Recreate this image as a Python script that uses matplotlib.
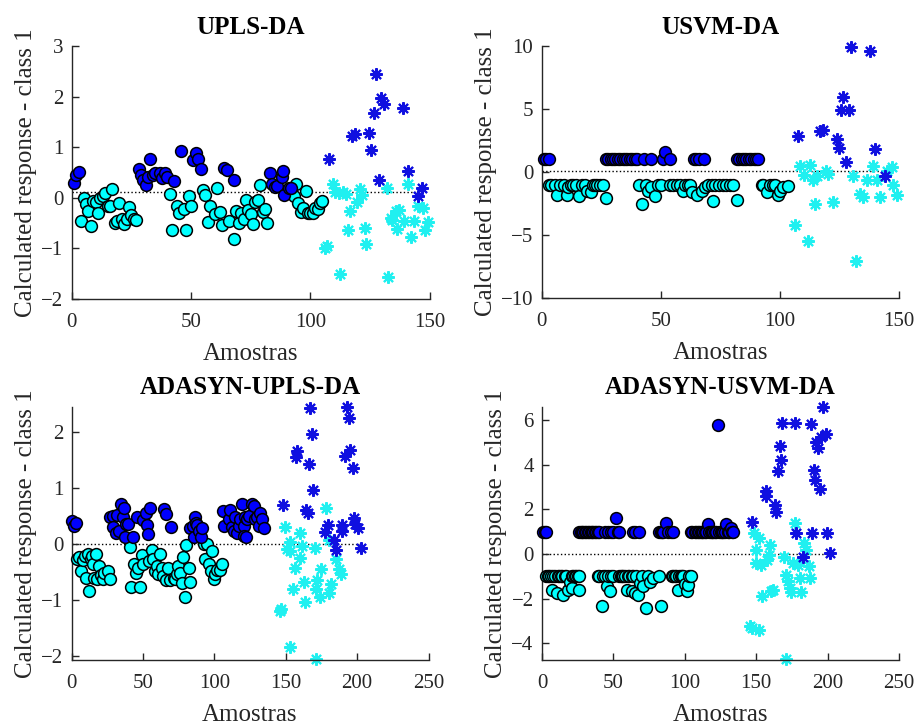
import numpy as np
import matplotlib
matplotlib.use("Agg")
import matplotlib.pyplot as plt

plt.rcParams['font.family'] = ['Liberation Serif', 'DejaVu Serif']

## ---------------- UPLS-DA ----------------
upls_blue_x = [1, 2, 3, 28, 29, 30, 31, 32, 33, 34, 35, 37, 38, 39, 40, 43, 46, 51, 52, 53, 54,
               64, 65, 68, 83, 84, 85, 86, 88, 88.5, 89, 91, 92]
upls_blue_y = [0.29, 0.45, 0.51, 0.57, 0.45, 0.35, 0.26, 0.41, 0.76, 0.45, 0.49, 0.50, 0.39, 0.50, 0.41,
               0.34, 0.92, 0.75, 0.88, 0.77, 0.56, 0.58, 0.54, 0.35, 0.50, 0.28, 0.22, 0.23, 0.42, 0.53,
               0.06, 0.19, 0.19]
upls_cyan_x = [4, 5, 6, 7, 8, 9, 10, 11, 12, 13, 14, 15, 16, 17, 18, 19, 20, 21, 22, 23, 24, 25, 26, 27,
               41, 42, 44, 45, 47, 48, 49, 50, 55, 56, 57, 58, 60, 61, 62, 63,
               66, 68, 69, 70, 71, 72, 73, 74, 75, 76, 77, 78, 79, 80, 81, 82,
               93, 94, 95, 96, 97, 98, 99, 100, 101, 102, 103, 104, 105]
upls_cyan_y = [-0.45, -0.01, -0.12, -0.27, -0.56, -0.07, -0.08, -0.30, -0.01, 0.04, 0.09, -0.16, -0.16,
               0.18, -0.49, -0.45, -0.11, -0.42, -0.52, -0.42, -0.18, -0.34, -0.41, -0.44,
               0.08, -0.64, -0.16, -0.30, -0.22, -0.63, 0.04, -0.17, 0.16, 0.05, -0.47, -0.17, -0.32,
               0.20, -0.29, -0.54,
               -0.45, -0.81, -0.27, -0.49, -0.31, -0.42, -0.04, -0.24, -0.32, -0.52, -0.09, -0.04, 0.25,
               -0.28, -0.23, -0.49,
               0.04, 0.27, -0.11, -0.29, -0.20, 0.14, -0.30, -0.30, -0.30, -0.20, -0.22, -0.11, -0.06]
upls_bstar_x = [108, 117.6, 118.7, 124.6, 125.6, 126.7, 127.7, 128.6, 129.5, 130.9, 138.7, 140.8, 145, 146.9]
upls_bstar_y = [0.77, 1.23, 1.27, 1.28, 0.94, 1.67, 2.44, 0.35, 1.97, 1.85, 1.77, 0.53, 0.04, 0.19]
upls_cstar_x = [106.3, 107, 109.4, 110.5, 111.9, 112.4, 113.6, 114.8, 115.6, 116.5, 119.7, 120.7, 121.5,
                122.8, 123.5, 131.9, 132.6, 133.7, 134.4, 135.8, 136.5, 137.2, 139.1, 141.1, 142.2,
                143.3, 145, 147.1, 148.1, 149.2]
upls_cstar_y = [-0.99, -0.96, 0.27, 0.12, 0.09, -1.51, 0.12, 0.08, -0.64, -0.27, -0.09, 0.17, 0.06,
                -0.60, -0.91, 0.19, -1.57, -0.40, -0.43, -0.27, -0.62, -0.24, -0.45, 0.27, -0.77,
                -0.46, -0.17, -0.20, -0.63, -0.47]
upls_thr = 0.12

## ---------------- USVM-DA ----------------
usvm_blue_x = [1, 2, 3, 27, 28, 29, 30, 31, 32, 33, 34, 35, 36, 37, 38, 39, 40, 43, 46, 51, 52, 54,
               64, 65, 66, 68, 82, 83, 84, 85, 86, 87, 88, 89, 90, 91]
usvm_blue_y = [1.0, 1.0, 1.0, 1.0, 1.0, 1.0, 1.0, 1.0, 1.0, 1.0, 1.0, 1.0, 1.0, 1.0, 1.0, 1.0, 1.0,
               1.0, 1.0, 1.0, 1.59, 1.0, 1.0, 1.0, 1.0, 1.0, 1.0, 1.0, 1.0, 1.0, 1.0, 1.0, 1.0, 1.0,
               1.0, 1.0]
usvm_cyan_x = [3, 4, 5.6, 6.6, 7.7, 9.4, 10.5, 11.2, 12.2, 13.3, 14.4, 15.8, 16.8, 18.2, 19.2, 20.6,
               21.4, 22.4, 23.4, 24.5, 25.9, 27, 41, 42, 43.7, 44.8, 45.8, 47.6, 49, 50,
               54, 55, 57, 58, 59.5, 60, 61.6, 62.3, 63, 65.4, 67.2, 68.6, 70, 71.5, 71.8, 73,
               74.5, 76, 77.5, 79, 80.5, 81.9, 92.4, 93, 94.5, 95.9, 97, 98, 99.4, 100.1, 101.5, 103.6]
usvm_cyan_y = [-1.0, -1.0, -1.0, -1.8, -1.0, -1.0, -1.8, -1.2, -1.0, -1.0, -1.0, -1.9, -1.0, -1.0,
               -1.5, -1.6, -1.0, -1.0, -1.0, -1.0, -1.0, -2.1, -1.0, -2.5, -1.0, -1.5, -1.2, -1.9,
               -1.0, -1.0, -1.0, -1.0, -1.0, -1.0, -1.5, -1.0, -1.0, -1.0, -1.6, -1.8, -1.5, -1.2,
               -1.0, -1.0, -2.3, -1.0, -1.0, -1.0, -1.0, -1.0, -1.0, -2.2, -1.0, -1.0, -1.6, -1.0,
               -1.0, -1.0, -1.8, -1.5, -1.2, -1.1]
usvm_bstar_x = [107.8, 116.9, 118, 123.9, 125.1, 125.8, 126.7, 127.8, 129.3, 130, 137.9, 140, 144.2]
usvm_bstar_y = [2.88, 3.28, 3.36, 2.65, 1.91, 4.89, 5.95, 0.76, 4.89, 9.95, 9.63, 1.79, -0.29]
usvm_cstar_x = [106.4, 108.5, 110.2, 112, 112.7, 114.1, 114.8, 115.5, 119.4, 120.4, 122.3, 130.9,
                131.9, 133.7, 134.9, 136.6, 139, 140.8, 142.1, 145, 147, 147.7, 149.1]
usvm_cstar_y = [-4.18, 0.44, -0.22, -5.5, 0.55, -0.66, -2.52, -0.35, 0.05, -0.14, -2.39, -0.29,
                -7.09, -1.73, -1.95, -0.6, 0.44, -0.6, -2.0, 0.05, 0.39, -1.03, -1.85]
usvm_thr = 0.05

## ---------------- ADASYN-UPLS-DA ----------------
aupls_blue_x = [0.5, 1.7, 3.1, 27, 28.9, 29.3, 31.2, 32.1, 33.5, 34.5, 36.3, 37, 37.5, 38.2, 39.9,
                42.9, 45.7, 50.4, 52.2, 53.2, 53.9, 55.1, 64.9, 66.3, 69.5, 83.1, 84.9, 85.9, 86.6,
                87.3, 88.2, 89.6, 90.6, 91.3, 106, 106.9, 110, 111.1, 112.3, 113.5, 114.7, 115.8, 117,
                118.2, 119.3, 120.5, 120.5, 121.7, 122.4, 122.8, 124, 126.4, 127.5, 128.7, 129.9,
                131, 132.2, 133.4, 134.5]
aupls_blue_y = [0.41, 0.33, 0.37, 0.48, 0.50, 0.30, 0.19, 0.52, 0.24, 0.71, 0.48, 0.64, 0.12, 0.35,
                0.35, 0.13, 0.48, 0.43, 0.56, 0.34, 0.18, 0.65, 0.62, 0.54, 0.31, 0.29, 0.33, 0.12,
                0.48, 0.38, 0.34, 0.24, 0.13, 0.29, 0.59, 0.33, 0.45, 0.60, 0.30, 0.24, 0.48, 0.19,
                0.33, 0.45, 0.71, 0.33, 0.15, 0.48, 0.13, 0.45, 0.50, 0.72, 0.68, 0.44, 0.48, 0.33,
                0.55, 0.44, 0.28]
aupls_cyan_x = [3.6, 5.5, 6.4, 8.3, 9.5, 10.2, 11.8, 12.5, 13.4, 14.1, 15.3, 16, 17.2, 18.1, 19.5,
                20.5, 21.9, 23, 25.4, 27, 41, 41.5, 43.8, 45.2, 46.9, 48, 49.2, 50.4, 54.6, 56.2,
                57.4, 58.6, 59.7, 60.9, 62, 63.2, 64.4, 66.3, 67.9, 69.1, 71.5, 72.6, 73.8, 74.9,
                76.1, 77.3, 78.4, 79.6, 80.3, 82, 83.1, 92.5, 93.6, 94.8, 96, 97.6, 98.3, 99.5,
                100.7, 101.8, 103.7, 105.3]
aupls_cyan_y = [-0.27, -0.24, -0.48, -0.29, -0.21, -0.60, -0.18, -0.83, -0.27, -0.21, -0.35, -0.60,
                -0.17, -0.63, -0.39, -0.55, -0.63, -0.51, -0.48, -0.63, -0.06, -0.77, -0.35, -0.51,
                -0.42, -0.77, -0.19, -0.36, -0.30, -0.10, -0.26, -0.48, -0.39, -0.54, -0.18, -0.42,
                -0.57, -0.65, -0.42, -0.64, -0.60, -0.63, -0.54, -0.39, -0.51, -0.69, -0.24, -0.95,
                -0.01, -0.42, -0.67, 0.00, -0.27, 0.00, -0.35, -0.48, -0.12, -0.63, -0.54, -0.47,
                -0.46, -0.36]
aupls_bstar_x = [167.2, 193, 194.2, 168.4, 157.9, 157.4, 166.5, 191.8, 195.3, 196.9, 169.1, 148,
                 164.4, 165.4, 197.6, 198.8, 200.4, 179.4, 177.8, 189.5, 189.5, 183.6, 185.5, 202.7]
aupls_bstar_y = [2.43, 2.44, 2.25, 1.96, 1.66, 1.55, 1.43, 1.57, 1.67, 1.36, 0.97, 0.70, 0.60, 0.56,
                 0.47, 0.36, 0.29, 0.34, 0.21, 0.34, 0.24, 0.07, -0.11, -0.08]
aupls_cstar_x = [178.4, 149.3, 160.3, 153.2, 161.4, 150.6, 153.2, 170.8, 180.2, 159.8, 156.7, 185.1,
                 174.4, 187.3, 188.5, 162.6, 155.1, 172.1, 181.4, 170.9, 180.3, 174, 163.8, 146.7,
                 145.7, 152.7, 171.4]
aupls_cstar_y = [0.65, 0.30, 0.19, 0.03, -0.03, -0.09, -0.12, -0.07, 0.07, -0.25, -0.43, -0.27,
                 -0.45, -0.45, -0.54, -0.68, -0.80, -0.65, -0.71, -0.80, -0.88, -0.95, -1.04, -1.16,
                 -1.20, -1.84, -2.05]
aupls_thr = 0.0

## ---------------- ADASYN-USVM-DA ----------------
ausvm_blue_x = [1, 2, 3, 26, 27, 28, 29, 30, 31, 32, 33, 34, 35, 36, 37, 38, 39, 40, 44, 46, 48, 50,
                51.8, 53, 54, 64, 65, 68, 82, 83, 84, 85, 86.5, 88, 90, 92, 104, 105, 107, 108, 109,
                110, 111, 112, 113, 114, 115, 116.3, 117, 118, 119, 120, 121, 122, 123.3, 124, 125,
                126, 127, 128, 129.1, 130, 131, 132.6, 133, 134]
ausvm_blue_y = [1.0, 1.0, 1.0, 1.0, 1.0, 1.0, 1.0, 1.0, 1.0, 1.0, 1.0, 1.0, 1.0, 1.0, 1.0, 1.0, 1.0,
                1.0, 1.0, 1.0, 1.0, 1.0, 1.63, 1.0, 1.0, 1.0, 1.0, 1.0, 1.0, 1.0, 1.0, 1.0, 1.39, 1.0,
                1.0, 1.0, 1.0, 1.0, 1.0, 1.0, 1.0, 1.0, 1.0, 1.0, 1.0, 1.0, 1.0, 1.34, 1.0, 1.0, 1.0,
                1.0, 1.0, 1.0, 5.78, 1.0, 1.0, 1.0, 1.0, 1.0, 1.34, 1.0, 1.0, 1.15, 1.0, 1.0]
ausvm_cyan_x = [3, 4, 5, 6, 6.8, 8, 9, 10.2, 11, 12, 13, 14, 14.9, 16, 17, 18.4, 19.6, 20.7, 21, 22,
                23, 24, 25, 26, 26.1, 39, 40, 41.7, 43, 44, 45.2, 46, 47.6, 48, 50, 54, 55, 56, 57,
                58, 59.2, 60, 61, 62.7, 63, 64, 65, 66, 67.4, 68.5, 70, 70.9, 72.5, 74, 75.5, 77.9,
                82, 83, 91, 92, 93, 94, 95.4, 96, 97, 98, 99, 100, 101.2, 102.4, 103, 104]
ausvm_cyan_y = [-1.0, -1.0, -1.0, -1.0, -1.6, -1.0, -1.0, -1.75, -1.0, -1.0, -1.0, -1.0, -1.82, -1.0,
                -1.0, -1.6, -1.25, -1.52, -1.0, -1.0, -1.0, -1.0, -1.0, -1.0, -1.6, -1.0, -1.0,
                -2.35, -1.0, -1.0, -1.45, -1.0, -1.68, -1.0, -1.0, -1.0, -1.0, -1.0, -1.0, -1.0,
                -1.6, -1.0, -1.0, -1.68, -1.0, -1.0, -1.75, -1.0, -1.82, -1.3, -1.0, -1.45, -2.4,
                -1.0, -1.25, -1.08, -1.0, -2.35, -1.0, -1.0, -1.0, -1.0, -1.6, -1.0, -1.0, -1.0,
                -1.0, -1.35, -1.68, -1.39, -1.0, -1.0]
ausvm_bstar_x = [196.7, 168.3, 176.9, 188.6, 198.6, 195.6, 192, 193.2, 166.4, 167.6, 165.3, 190.2,
                 191.4, 194.4, 157.1, 156.6, 162.9, 164.1, 147.3, 178, 189.3, 199.3, 182.7, 201.9]
ausvm_bstar_y = [6.59, 5.89, 5.89, 5.82, 5.37, 5.22, 5.0, 4.75, 4.85, 4.21, 3.74, 3.77, 3.32, 2.92,
                 2.82, 2.58, 2.18, 1.88, 1.44, 0.92, 0.95, 0.95, -0.15, 0.03]
ausvm_cstar_x = [177.4, 148.3, 152, 149.7, 159.9, 159, 157.6, 150.1, 153.6, 169.2, 175.7, 179.2,
                 183.5, 185.1, 187, 171.1, 172.3, 173.5, 174.6, 180.4, 187.4, 181.6, 161.8, 160.6,
                 154.3, 145.5, 147.3, 152, 170.6]
ausvm_cstar_y = [1.41, 0.93, 0.70, 0.18, 0.40, -0.04, -0.27, -0.41, -0.49, -0.12, -0.41, -0.49,
                 0.48, 0.18, -0.56, -0.93, -1.22, -1.51, -1.71, -1.08, -1.08, -1.71, -1.61, -1.68,
                 -1.90, -3.24, -3.31, -3.41, -4.72]
ausvm_thr = 0.0

titles = ['UPLS-DA', 'USVM-DA', 'ADASYN-UPLS-DA', 'ADASYN-USVM-DA']

BLUE = '#0000ff'
CYAN = '#00ffff'
STAR_BLUE = '#1010e0'
STAR_CYAN = '#20f0f0'
AX_COL = '#262626'


def draw_panel(ax, bx, by, cx, cy, sbx, sby, scx, scy, thr, n_samples, title, xlim, ylim, yticks, xticks):
    ax.plot([0, n_samples], [thr, thr], ':', color='k', linewidth=1.0, zorder=1)
    ax.scatter(cx, cy, s=72, c=CYAN, edgecolors='k', linewidths=1.1, zorder=3, clip_on=False)
    ax.scatter(bx, by, s=72, c=BLUE, edgecolors='k', linewidths=1.1, zorder=3, clip_on=False)
    ax.plot(scx, scy, linestyle='none', marker=(8, 2, 0), markersize=9, markeredgewidth=1.5,
            color=STAR_CYAN, zorder=2, clip_on=False)
    ax.plot(sbx, sby, linestyle='none', marker=(8, 2, 0), markersize=9, markeredgewidth=1.5,
            color=STAR_BLUE, zorder=2, clip_on=False)
    ax.set_xlim(xlim)
    ax.set_ylim(ylim)
    ax.set_xticks(xticks)
    ax.set_yticks(yticks)
    ax.set_title(title, fontsize=18, fontweight='bold', pad=9)
    ax.set_xlabel('Amostras', fontsize=18, color=AX_COL, labelpad=8)
    ax.set_ylabel('Calculated response - class 1', fontsize=18, color=AX_COL, labelpad=3)
    ax.spines['top'].set_visible(False)
    ax.spines['right'].set_visible(False)
    for sp in ['left', 'bottom']:
        ax.spines[sp].set_color(AX_COL)
        ax.spines[sp].set_linewidth(1.0)
    ax.tick_params(direction='in', length=5, width=1.0, labelsize=15, colors=AX_COL)
    ax.tick_params(axis='x', pad=10)
    ax.tick_params(axis='y', pad=6)


fig = plt.figure(figsize=(9.18, 7.27), dpi=100)
W, H = 918.0, 727.0
ax1 = fig.add_axes([71.7 / W, (H - 299) / H, 358 / W, 253 / H])
ax2 = fig.add_axes([541.7 / W, (H - 298) / H, 357 / W, 252 / H])
ax3 = fig.add_axes([71.5 / W, (H - 660) / H, 357 / W, 253.3 / H])
ax4 = fig.add_axes([542 / W, (H - 660) / H, 357 / W, 253.3 / H])

draw_panel(ax1, upls_blue_x, upls_blue_y, upls_cyan_x, upls_cyan_y, upls_bstar_x, upls_bstar_y,
           upls_cstar_x, upls_cstar_y, upls_thr, 147, titles[0], (0, 150), (-2, 3),
           [-2, -1, 0, 1, 2, 3], [0, 50, 100, 150])
draw_panel(ax2, usvm_blue_x, usvm_blue_y, usvm_cyan_x, usvm_cyan_y, usvm_bstar_x, usvm_bstar_y,
           usvm_cstar_x, usvm_cstar_y, usvm_thr, 147, titles[1], (0, 150), (-10, 10),
           [-10, -5, 0, 5, 10], [0, 50, 100, 150])
draw_panel(ax3, aupls_blue_x, aupls_blue_y, aupls_cyan_x, aupls_cyan_y, aupls_bstar_x, aupls_bstar_y,
           aupls_cstar_x, aupls_cstar_y, aupls_thr, 202, titles[2], (0, 250), (-2.07, 2.45),
           [-2, -1, 0, 1, 2], [0, 50, 100, 150, 200, 250])
draw_panel(ax4, ausvm_blue_x, ausvm_blue_y, ausvm_cyan_x, ausvm_cyan_y, ausvm_bstar_x, ausvm_bstar_y,
           ausvm_cstar_x, ausvm_cstar_y, ausvm_thr, 202, titles[3], (0, 250), (-4.75, 6.6),
           [-4, -2, 0, 2, 4, 6], [0, 50, 100, 150, 200, 250])

fig.savefig('out.png', dpi=100)
